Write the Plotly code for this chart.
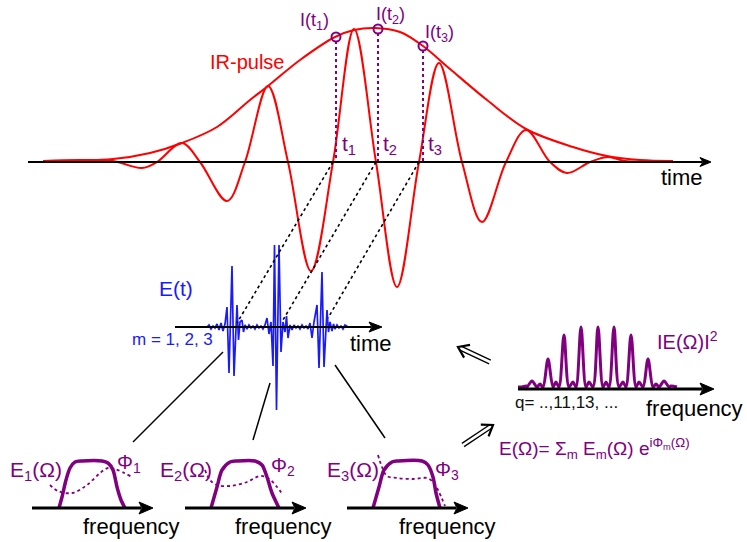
import math
import plotly.graph_objects as go

W, H = 747, 542
RED = "#ff0000"
PURPLE = "#800080"
BLUE = "#1a1aff"
BLACK = "#000000"
FONT = "Liberation Sans, Arial, sans-serif"

# ---------------- data (pixel coordinates) ----------------
# IR pulse carrier: extremes and zero crossings
ir_x = [43, 80, 113, 142, 157, 182, 200, 227, 245, 268, 288, 311, 333, 354, 376,
        397, 419, 439, 462, 482, 506, 526, 550, 567, 590, 608, 625, 673]
ir_y = [161, 160, 161, 168, 162, 143, 162, 201, 162, 86, 162, 271, 162, 29, 162,
        287, 162, 63, 162, 222, 162, 130, 162, 173, 162, 157, 161, 162]

# IR pulse envelope
env_x = [43, 113, 150, 182, 217, 250, 268, 300, 335, 354, 375, 400, 423, 450, 487,
         526, 573, 607, 640, 673]
env_y = [161, 159, 153, 143, 127, 100, 86, 60, 37, 30, 28, 32, 46, 69, 100,
         129, 147, 156, 160, 161]

# sampling instants t1, t2, t3 and intensities I(t)
samp_x = [336, 378, 423]
samp_y = [37, 29, 46]
zero_x = [333, 376, 419]
# attosecond bursts the dotted lines point to
burst_link_x = [237, 283, 328]
burst_link_y = [323, 320, 318]

# E(t) attosecond pulse train
et_x = [207, 209, 211, 213, 215, 217, 219,
        221, 223, 225, 227, 229, 232, 234, 237, 238.5, 240, 242, 243.5, 245,
        247, 249, 251, 253, 255, 257, 259, 261, 263, 265,
        267, 269, 271, 273, 274.5, 276.5, 279, 281, 283, 285, 286.5, 288, 290, 292,
        294, 296, 298, 300, 302, 304, 306, 308,
        310, 312, 314, 317, 319, 322, 324, 327, 328.5, 330, 332, 333.5,
        335, 337, 339, 341, 343, 345, 348]
et_y = [327, 325, 329, 326, 328, 324, 330,
        323, 331, 324, 307, 373, 266, 376, 305, 340, 322, 320, 332, 325,
        329, 325, 328, 326, 329, 325, 328, 326, 329, 325,
        318, 334, 322, 366, 245, 410, 245, 352, 322, 332, 316, 338, 325, 330,
        325, 328, 326, 329, 325, 328, 326, 329,
        323, 338, 322, 305, 368, 272, 367, 310, 332, 322, 331, 324,
        329, 325, 328, 326, 329, 325, 327]

# spectral amplitudes of the three bursts
amp1_x = [59, 62, 66, 70, 75, 82, 102, 108, 113, 117, 121, 125]
amp1_y = [508, 497, 480, 468, 462, 461, 461, 463, 470, 487, 500, 508]
amp2_x = [211, 217, 222, 230, 237, 255, 262, 267, 272, 279]
amp2_y = [508, 487, 470, 462, 461, 461, 465, 477, 493, 508]
amp3_x = [373, 379, 384, 392, 398, 422, 428, 433, 436, 440]
amp3_y = [508, 487, 470, 462, 461, 461, 465, 477, 493, 508]

# spectral phases
ph1_x = [50, 58, 72, 87, 100, 108, 115, 132]
ph1_y = [485, 491, 493, 485, 473, 468, 469, 477]
ph2_x = [205, 210, 217, 230, 247, 260, 268, 277, 283]
ph2_y = [470, 480, 485, 486, 482, 476, 478, 487, 495]
ph3_x = [378, 382, 387, 397, 413, 427, 433, 438, 445]
ph3_y = [455, 467, 476, 478, 479, 478, 482, 490, 506]

# harmonic spectrum |E(Omega)|^2  (q = ..., 11, 13, ...)
harm_x = [532, 548, 564, 581, 598, 614, 631, 648, 664]
harm_y = [381, 359, 335, 327, 327, 327, 335, 359, 381]
bump_x = [540, 556, 573, 589, 606, 623, 639, 656]
bump_y = [384, 382, 382, 382, 382, 382, 382, 384]
harm_base = 387
harm_start, harm_end = 518, 677

# ---------------- figure ----------------
fig = go.Figure()


def line(xs, ys, color, width, dash="solid", shape="linear", smoothing=1.0):
    fig.add_trace(go.Scatter(x=xs, y=ys, mode="lines",
                             line=dict(color=color, width=width, dash=dash,
                                       shape=shape, smoothing=smoothing),
                             hoverinfo="skip", showlegend=False))


shapes = []


def axis_arrow(x0, x1, y, width, head_len, head_half):
    shapes.append(dict(type="line", x0=x0, x1=x1 - head_len + 2, y0=y, y1=y,
                       line=dict(color=BLACK, width=width)))
    shapes.append(dict(type="path",
                       path=f"M {x1} {y} L {x1 - head_len} {y - head_half} "
                            f"L {x1 - head_len + 3} {y} L {x1 - head_len} {y + head_half} Z",
                       fillcolor=BLACK, line=dict(color=BLACK, width=1)))


axis_arrow(28, 711, 162, 2, 11, 4.5)
axis_arrow(175, 382, 327, 2, 13, 5)
axis_arrow(32, 153, 508, 3, 14, 6)
axis_arrow(185, 306, 508, 3, 14, 6)
axis_arrow(347, 468, 508, 3, 14, 6)
axis_arrow(518, 714, 389, 3, 14, 6)

# IR pulse
line(env_x, env_y, RED, 2, shape="spline", smoothing=1.0)
line(ir_x, ir_y, RED, 2, shape="spline", smoothing=1.0)

# purple dotted lines from I(t) to t
for sx, sy in zip(samp_x, samp_y):
    line([sx, sx], [sy + 4, 162], PURPLE, 2, dash="dot")
fig.add_trace(go.Scatter(x=samp_x, y=samp_y, mode="markers",
                         marker=dict(symbol="circle-open", size=9,
                                     line=dict(color=PURPLE, width=2), color=PURPLE),
                         hoverinfo="skip", showlegend=False))

# E(t)
line(et_x, et_y, BLUE, 1.7)

# black dotted lines from zero crossings to the bursts
for zx, bx, by in zip(zero_x, burst_link_x, burst_link_y):
    line([zx, bx], [162, by], BLACK, 1.6, dash="dot")

# solid lines from the bursts to their spectra
links = [((223, 352), (133, 442)), ((270, 383), (253, 440)), ((335, 365), (385, 438))]
for (x0, y0), (x1, y1) in links:
    shapes.append(dict(type="line", x0=x0, y0=y0, x1=x1, y1=y1,
                       line=dict(color=BLACK, width=1.5)))

# spectra
for ax_, ay_ in [(amp1_x, amp1_y), (amp2_x, amp2_y), (amp3_x, amp3_y)]:
    line(ax_, ay_, PURPLE, 3.5, shape="spline", smoothing=0.8)
for px_, py_ in [(ph1_x, ph1_y), (ph2_x, ph2_y), (ph3_x, ph3_y)]:
    line(px_, py_, PURPLE, 1.8, dash="dot", shape="spline", smoothing=1.0)

# harmonic spectrum path
hx, hy = [harm_start, harm_x[0] - 10], [harm_base, harm_base]
hx += [harm_x[0] - 6, ]
hy += [harm_base - 1]
for i, (px, py) in enumerate(zip(harm_x, harm_y)):
    hx += [px - 5, px, px + 5]
    hy += [harm_base, py, harm_base]
    if i < len(bump_x):
        hx += [bump_x[i]]
        hy += [bump_y[i]]
hx += [harm_x[-1] + 7, harm_end]
hy += [harm_base - 1, harm_base]
line(hx, hy, PURPLE, 3, shape="spline", smoothing=0.9)

# double-line arrows
for (tx, ty), (hx_, hy_) in [((490, 362), (458, 347)), ((463, 445), (493, 425))]:
    dx, dy = hx_ - tx, hy_ - ty
    L = math.hypot(dx, dy)
    ux, uy = dx / L, dy / L
    nx, ny = -uy, ux
    for s in (-2, 2):
        shapes.append(dict(type="line", x0=tx + s * nx, y0=ty + s * ny,
                           x1=hx_ - 3 * ux + s * nx, y1=hy_ - 3 * uy + s * ny,
                           line=dict(color=BLACK, width=1.3)))
    bx, by = hx_ - 10 * ux, hy_ - 10 * uy
    shapes.append(dict(type="path",
                       path=f"M {bx + 7 * nx} {by + 7 * ny} L {hx_} {hy_} L {bx - 7 * nx} {by - 7 * ny}",
                       line=dict(color=BLACK, width=2.2)))

# ---------------- texts ----------------
ann = []


def txt(x, y, s, size, color, xanchor="center"):
    ann.append(dict(x=x, y=y, text=s, showarrow=False, xanchor=xanchor, yanchor="middle",
                    font=dict(family=FONT, size=size, color=color)))


txt(247, 62, "IR-pulse", 20, RED)
txt(682, 177, "time", 22, BLACK)
txt(314, 21, "I(t<sub>1</sub>)", 18, PURPLE)
txt(390, 15, "I(t<sub>2</sub>)", 18, PURPLE)
txt(439, 33, "I(t<sub>3</sub>)", 18, PURPLE)
txt(349, 145, "t<sub>1</sub>", 21, PURPLE)
txt(390, 145, "t<sub>2</sub>", 21, PURPLE)
txt(435, 145, "t<sub>3</sub>", 21, PURPLE)
txt(176, 288, "E(t)", 21, BLUE)
txt(172, 339, "m = 1, 2, 3", 17, BLUE)
txt(371, 343, "time", 22, BLACK)
txt(36, 471, "E<sub>1</sub>(Ω)", 21, PURPLE)
txt(186, 471, "E<sub>2</sub>(Ω)", 21, PURPLE)
txt(353, 471, "E<sub>3</sub>(Ω)", 21, PURPLE)
txt(129, 463, "Φ<sub>1</sub>", 20, PURPLE)
txt(283, 466, "Φ<sub>2</sub>", 20, PURPLE)
txt(447, 470, "Φ<sub>3</sub>", 20, PURPLE)
txt(131, 526, "frequency", 22, BLACK)
txt(283, 526, "frequency", 22, BLACK)
txt(447, 526, "frequency", 22, BLACK)
txt(687, 340, "IE(Ω)I<sup>2</sup>", 20, PURPLE)
txt(566, 402, "q= ..,11,13, ...", 17, "#111111")
txt(694, 408, "frequency", 22, BLACK)
txt(497, 448, "E(Ω)= Σ<sub>m</sub> E<sub>m</sub>(Ω) e<sup>iΦ<sub>m</sub>(Ω)</sup>", 19, PURPLE,
    xanchor="left")

fig.update_layout(
    width=W, height=H, autosize=False,
    margin=dict(l=0, r=0, t=0, b=0),
    paper_bgcolor="white", plot_bgcolor="white",
    xaxis=dict(range=[0, W], visible=False, fixedrange=True),
    yaxis=dict(range=[H, 0], visible=False, fixedrange=True),
    shapes=shapes, annotations=ann, showlegend=False,
)
fig.write_html("out.html", config={"displayModeBar": False},
               post_script="document.body.style.margin='0px';"
                           "document.body.style.padding='0px';"
                           "document.body.style.overflow='hidden';")
